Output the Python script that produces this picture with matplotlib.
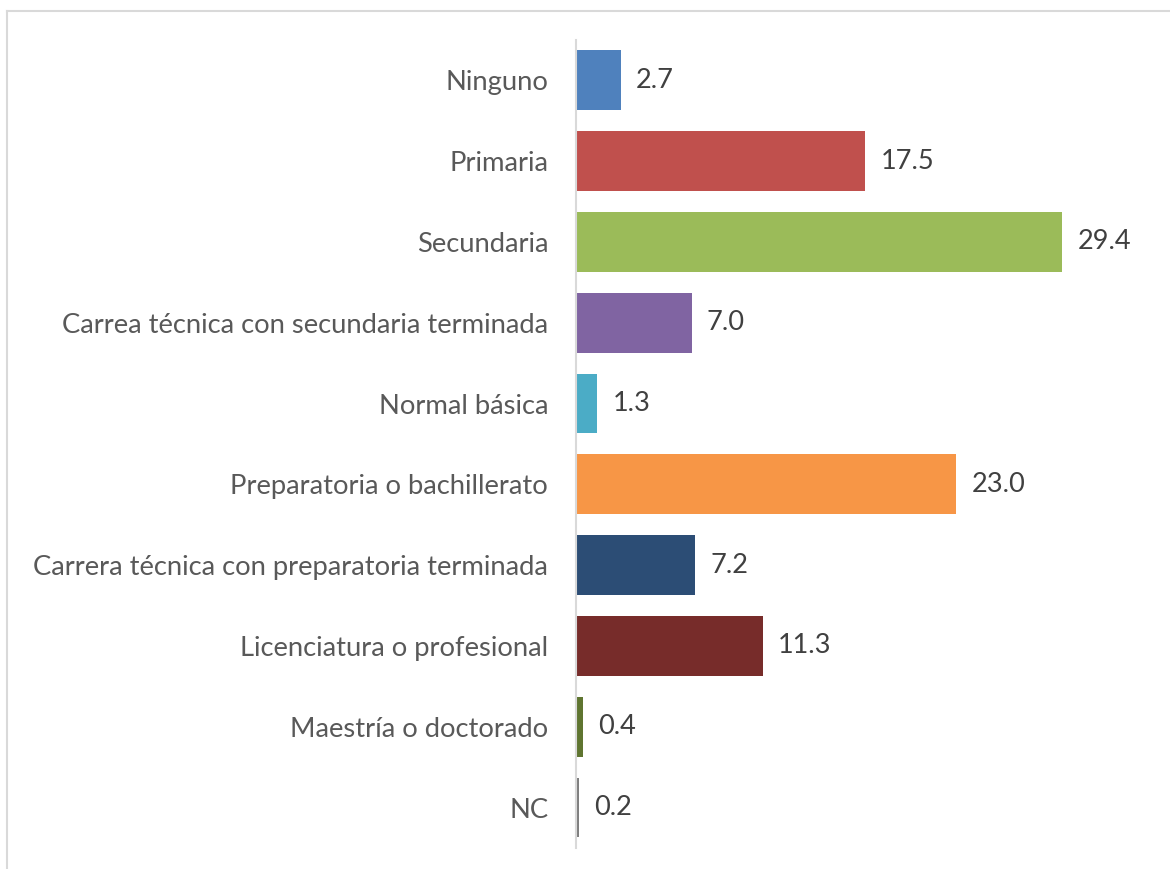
import matplotlib.pyplot as plt
from matplotlib.lines import Line2D

categories = [
    "Ninguno",
    "Primaria",
    "Secundaria",
    "Carrea técnica con secundaria terminada",
    "Normal básica",
    "Preparatoria o bachillerato",
    "Carrera técnica con preparatoria terminada",
    "Licenciatura o profesional",
    "Maestría o doctorado",
    "NC",
]
values = [2.7, 17.5, 29.4, 7.0, 1.3, 23.0, 7.2, 11.3, 0.4, 0.2]
colors = ["#4F81BD", "#C0504D", "#9BBB59", "#8064A2", "#4BACC6",
          "#F79646", "#2C4D75", "#772C2A", "#5F7530", "#7F7F7F"]

plt.rcParams["font.family"] = ["Lato", "DejaVu Sans"]

fig = plt.figure(figsize=(11.7, 8.69), dpi=100)
ax = fig.add_axes([0.4923, 0.0242, 0.4945, 0.9298])

pos = list(range(len(categories)))
ax.barh(pos, values, height=0.74, color=colors)
for y, v in zip(pos, values):
    ax.annotate(f"{v:.1f}", (v, y), xytext=(11, 0), textcoords="offset points",
                va="center", ha="left", fontsize=19.5, color="#404040")

ax.set_xlim(0, 35)
ax.set_ylim(len(categories) - 0.5, -0.5)
ax.set_yticks(pos)
ax.set_yticklabels(categories, fontsize=19.7, color="#595959")
ax.tick_params(axis="y", length=0, pad=20)
ax.set_xticks([])
for side in ["top", "right", "bottom"]:
    ax.spines[side].set_visible(False)
ax.spines["left"].set_color("#D9D9D9")
ax.spines["left"].set_linewidth(1.5)

# chart-area frame (top and left edges visible)
fig.add_artist(Line2D([7 / 1170, 1.0], [1 - 11 / 869, 1 - 11 / 869],
                      transform=fig.transFigure, color="#D9D9D9", linewidth=1.5))
fig.add_artist(Line2D([7 / 1170, 7 / 1170], [0.0, 1 - 11 / 869],
                      transform=fig.transFigure, color="#D9D9D9", linewidth=1.5))

fig.savefig("out.png", dpi=100)
